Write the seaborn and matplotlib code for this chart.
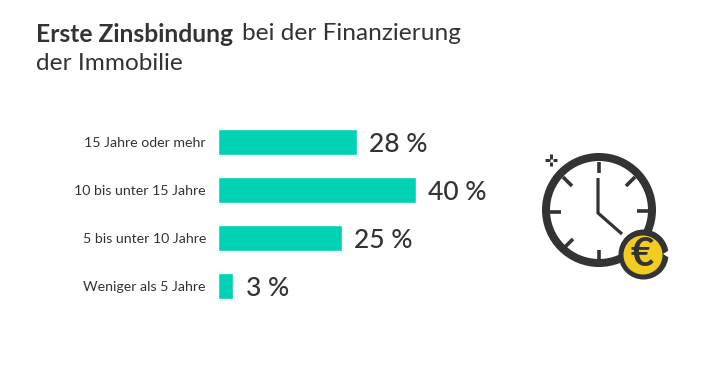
import matplotlib
matplotlib.use('Agg')
import matplotlib.pyplot as plt
from matplotlib.patches import Circle, Polygon
import seaborn as sns
import pandas as pd

#DATA
categories = ['15 Jahre oder mehr', '10 bis unter 15 Jahre', '5 bis unter 10 Jahre', 'Weniger als 5 Jahre']
values = [28, 40, 25, 3]

W, H = 721, 380
DARK = '#333333'
BAR = '#00d1b2'
FONT = 'Lato'

sns.set_theme(style='white')
plt.rcParams['font.family'] = [FONT, 'DejaVu Sans']

df = pd.DataFrame({'kategorie': categories, 'anteil': values})

fig = plt.figure(figsize=(W / 100, H / 100), dpi=100, facecolor='white')

#chart axes, placed in pixels of the picture
left, right, top, bottom = 218.5, 218.5 + 4.93 * 50, 117.5, 310.5
ax = fig.add_axes([left / W, 1 - bottom / H, (right - left) / W, (bottom - top) / H])
sns.barplot(data=df, y='kategorie', x='anteil', color=BAR, saturation=1, width=0.54, ax=ax)
ax.set_xlim(0, 50)
ax.set_xlabel('')
ax.set_ylabel('')
ax.xaxis.set_visible(False)
ax.tick_params(axis='y', length=0, pad=9, labelsize=10.2, labelcolor=DARK)
sns.despine(ax=ax, left=True, bottom=True)
ax.patch.set_alpha(0)
labels = ax.bar_label(ax.containers[0], labels=[f'{v} %' for v in values], padding=8.8,
                      fontsize=19, color=DARK, fontweight='medium')
for t in labels:
    t.set_verticalalignment('center_baseline')

#title
fig.text(36 / W, 1 - 34 / H, 'Erste Zinsbindung', fontsize=17.7, fontweight='bold', color=DARK, va='center')
fig.text(242 / W, 1 - 34 / H, 'bei der Finanzierung', fontsize=17.6, color=DARK, va='center')
fig.text(36 / W, 1 - 63 / H, 'der Immobilie', fontsize=17.6, color=DARK, va='center')

#clock icon, overlay in pixel coordinates
ic = fig.add_axes([0, 0, 1, 1])
ic.set_xlim(0, W)
ic.set_ylim(H, 0)
ic.axis('off')
px = 72 / 100
ic.add_patch(Circle((599, 210), 53, fill=False, ec=DARK, lw=8 * px))
ticks = [(599, 162, 599, 173), (637, 211, 649, 211), (550, 212, 561, 212), (599, 250, 599, 260),
         (563, 177, 572, 186), (626, 186, 635, 177), (565, 247, 573, 239)]
for x0, y0, x1, y1 in ticks:
    ic.plot([x0, x1], [y0, y1], color=DARK, lw=3.6 * px, solid_capstyle='butt')
ic.plot([598, 598, 622], [178, 213, 234], color=DARK, lw=3.2 * px, solid_capstyle='butt', solid_joinstyle='round')
for x0, y0, x1, y1 in [(551, 154, 551, 158.5), (551, 161.5, 551, 166), (545, 160, 549.5, 160), (552.5, 160, 557, 160)]:
    ic.plot([x0, x1], [y0, y1], color=DARK, lw=3 * px, solid_capstyle='butt')
ic.add_patch(Circle((643.5, 254.5), 25, fc=DARK, ec='none', zorder=3))
ic.add_patch(Circle((643, 255), 19.5, fc='#f2cb23', ec='none', zorder=4))
#small notch on the right of the coin
ic.add_patch(Polygon([(669.5, 250), (663, 254), (669.5, 258)], fc='white', ec='none', zorder=4))
ic.text(642, 254, '€', fontsize=29, fontweight='bold', color=DARK, ha='center', va='center',
        family=[FONT, 'DejaVu Sans'], zorder=5)

fig.savefig('out.png', dpi=100)
